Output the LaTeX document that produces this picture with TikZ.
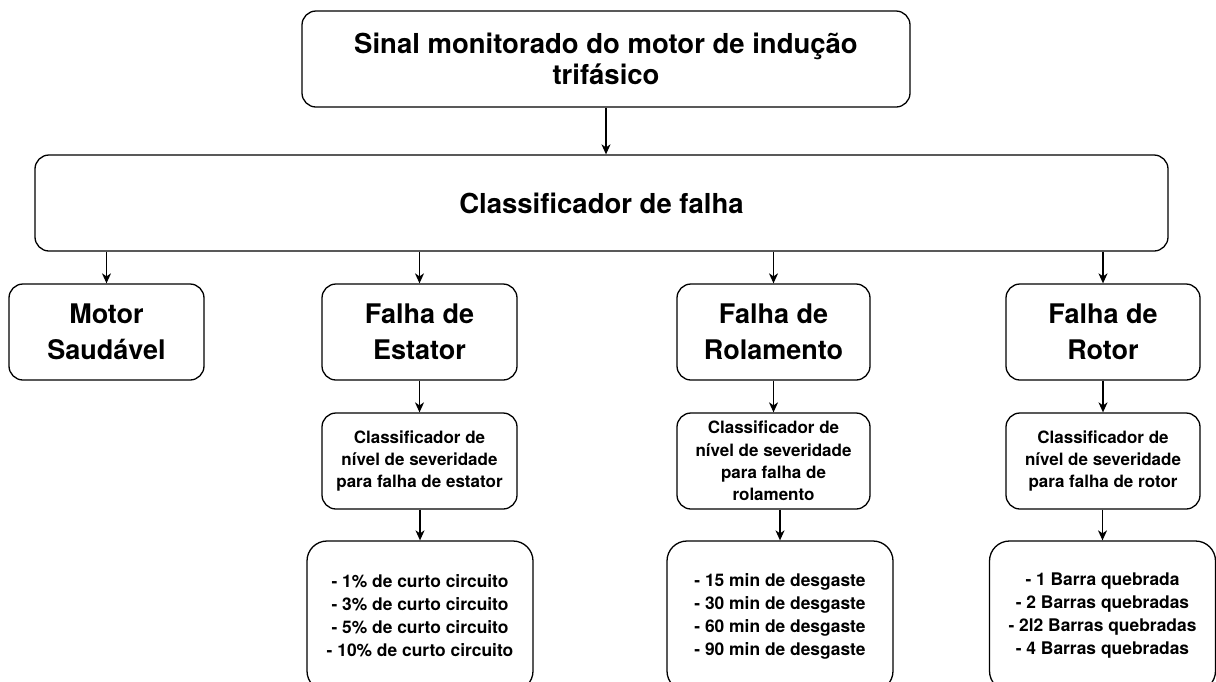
\documentclass[tikz,border=0pt]{standalone}
\usepackage{fontspec}
\setmainfont{TeX Gyre Heros}
\usetikzlibrary{arrows.meta}
\begin{document}
\begin{tikzpicture}[x=1pt,y=-1pt,
  box/.style={draw=black,line width=1.3pt,rounded corners=14pt,inner sep=0pt,align=center,font=\bfseries},
  arr/.style={line width=1.3pt,-{Stealth[length=10pt,width=9pt,inset=3pt]}}]
\useasboundingbox (0,0) rectangle (1216,681);
\clip (0,0) rectangle (1216,681);
\node[box,minimum width=608pt,minimum height=96pt,font=\fontsize{27.5}{31}\selectfont\bfseries] (top) at (606,59) {Sinal monitorado do motor de indução\\trifásico};
\node[box,minimum width=1133pt,minimum height=96pt,font=\fontsize{27.5}{31}\selectfont\bfseries] (cls) at (601.5,203) {Classificador de falha};
\tikzset{rowbox/.style={box,minimum height=96pt,font=\fontsize{27}{36}\selectfont\bfseries},
  sevbox/.style={box,minimum height=96pt,font=\fontsize{17}{22.3}\selectfont\bfseries},
  botbox/.style={box,rounded corners=20pt,minimum width=226pt,minimum height=150pt,font=\fontsize{17.4}{23}\selectfont\bfseries}}
\node[rowbox,minimum width=195pt] (motor) at (106.5,332) {Motor\\Saudável};
\node[rowbox,minimum width=195pt] (est) at (419.5,332) {Falha de\\Estator};
\node[rowbox,minimum width=193pt] (rol) at (773.5,332) {Falha de\\Rolamento};
\node[rowbox,minimum width=194pt] (rot) at (1103,332) {Falha de\\Rotor};
\node[sevbox,minimum width=195pt] (sest) at (419.5,461) {Classificador de\\nível de severidade\\para falha de estator};
\node[sevbox,minimum width=193pt] (srol) at (773.5,461) {Classificador de\\nível de severidade\\para falha de\\rolamento};
\node[sevbox,minimum width=194pt] (srot) at (1103,461) {Classificador de\\nível de severidade\\para falha de rotor};
\node[botbox] (best) at (420,616) {- 1\% de curto circuito\\- 3\% de curto circuito\\- 5\% de curto circuito\\- 10\% de curto circuito};
\node[botbox] (brol) at (780,616) {- 15 min de desgaste\\- 30 min de desgaste\\- 60 min de desgaste\\- 90 min de desgaste};
\node[botbox] (brot) at (1102.5,616) {- 1 Barra quebrada\\- 2 Barras quebradas\\- 2l2 Barras quebradas\\- 4 Barras quebradas};
\draw[arr] (top.south) -- (top.south |- cls.north);
\foreach \n in {motor,est,rol,rot} \draw[arr] (cls.south -| \n.north) -- (\n.north);
\draw[arr] (est.south) -- (sest.north);
\draw[arr] (rol.south) -- (srol.north);
\draw[arr] (rot.south) -- (srot.north);
\draw[arr] (sest.south -| best.north) -- (best.north);
\draw[arr] (srol.south -| brol.north) -- (brol.north);
\draw[arr] (srot.south -| brot.north) -- (brot.north);
\end{tikzpicture}
\end{document}
